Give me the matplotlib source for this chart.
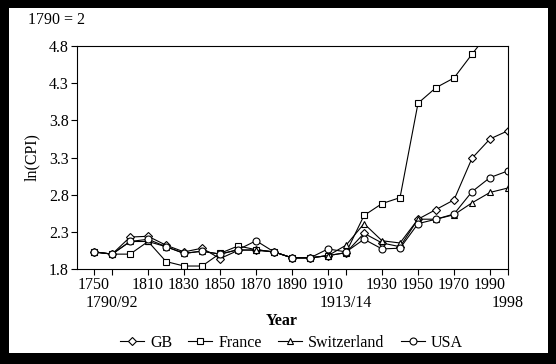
import matplotlib

matplotlib.use("Agg")
import matplotlib.pyplot as plt
import matplotlib.transforms as mtransforms
from matplotlib.patches import Rectangle

# ── data ──────────────────────────────────────────────────────────────────
years = ["1750", "1790/92", "1800", "1810", "1820", "1830", "1840", "1850",
         "1860", "1870", "1880", "1890", "1900", "1910", "1913/14", "1920",
         "1930", "1940", "1950", "1960", "1970", "1980", "1990", "1998"]

gb = [2.03, 2.00, 2.23, 2.24, 2.12, 2.03, 2.08, 1.94, 2.05, 2.06, 2.03, 1.95,
      1.95, 1.98, 2.02, 2.28, 2.15, 2.10, 2.47, 2.60, 2.73, 3.29, 3.55, 3.66]
france = [2.03, 2.00, 2.00, 2.17, 1.90, 1.84, 1.84, 2.01, 2.11, 2.06, 2.03, 1.95,
          1.95, 1.98, 2.02, 2.52, 2.68, 2.76, 4.03, 4.24, 4.37, 4.69, 5.00, 5.25]
switzerland = [2.03, 2.00, 2.17, 2.17, 2.10, 2.01, 2.04, 2.00, 2.06, 2.05, 2.03, 1.95,
               1.95, 1.98, 2.12, 2.41, 2.18, 2.15, 2.47, 2.47, 2.53, 2.69, 2.83, 2.89]
usa = [2.03, 2.00, 2.17, 2.20, 2.10, 2.01, 2.04, 2.00, 2.06, 2.18, 2.03, 1.95,
       1.95, 2.07, 2.03, 2.20, 2.07, 2.08, 2.41, 2.47, 2.54, 2.84, 3.03, 3.12]

tick_idx = [0, 1, 3, 5, 7, 9, 11, 13, 14, 16, 18, 20, 22, 23]
second_row = ["1790/92", "1913/14", "1998"]
yticks = [1.8, 2.3, 2.8, 3.3, 3.8, 4.3, 4.8]

plt.rcParams["font.family"] = ["Liberation Serif", "DejaVu Serif"]
plt.rcParams["font.size"] = 11.5

fig = plt.figure(figsize=(5.56, 3.64), dpi=100)
ax = fig.add_axes([77 / 556, 1 - 269 / 364, 431 / 556, 223 / 364])

x = list(range(len(years)))
series = [("GB", gb, "D", 4.0), ("France", france, "s", 4.2),
          ("Switzerland", switzerland, "^", 4.8), ("USA", usa, "o", 5.0)]
for name, vals, mk, ms in series:
    ax.plot(x, vals, color="black", lw=0.8, marker=mk, ms=ms,
            mfc="white", mec="black", mew=0.8, label=name)

ax.set_xlim(-0.95, 23)
ax.set_ylim(1.8, 4.8)
ax.set_yticks(yticks)
ax.set_yticklabels([f"{v:.1f}" for v in yticks])
ax.set_xticks(tick_idx)
# first row of labels on the ticks, second row as separate texts
ax.set_xticklabels(["" if years[i] in second_row else years[i] for i in tick_idx])
ax.tick_params(direction="out", length=4, width=0.8, pad=2)

trans = mtransforms.blended_transform_factory(ax.transData, ax.transAxes)
for i in tick_idx:
    if years[i] in second_row:
        ax.text(i, -0.151, years[i], transform=trans, ha="center", va="center")

for s in ax.spines.values():
    s.set_linewidth(0.8)

ax.set_ylabel("ln(CPI)")
ax.yaxis.set_label_coords(-0.086, 0.5)
ax.set_xlabel("Year", fontweight="bold")
ax.xaxis.set_label_coords(0.475, -0.197)
fig.text(28 / 556, 1 - 20 / 364, "1790 = 2", ha="left", va="center")

fig.legend(loc="center", bbox_to_anchor=(0.524, 1 - 343 / 364), ncol=4,
           frameon=False, handlelength=1.5, handletextpad=0.4,
           columnspacing=1.0)

# thick black frame round the figure
for r in [(0, 0, 9 / 556, 1), (1 - 8 / 556, 0, 8 / 556, 1),
          (0, 1 - 8 / 364, 1, 8 / 364), (0, 0, 1, 11 / 364)]:
    fig.patches.append(Rectangle(r[:2], r[2], r[3], transform=fig.transFigure,
                                 facecolor="black", edgecolor="none", zorder=10))

fig.savefig("out.png", dpi=100, facecolor="white")
